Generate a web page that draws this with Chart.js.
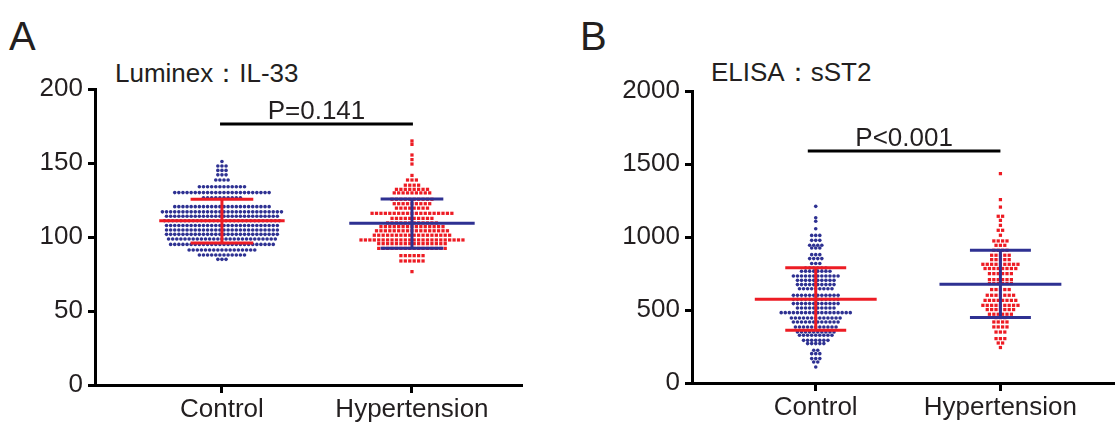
<!DOCTYPE html>
<html>
<head>
<meta charset="utf-8">
<script src="https://cdn.jsdelivr.net/npm/chart.js@4.4.1/dist/chart.umd.min.js"></script>
<style>
  body { margin: 0; background: #fff; width: 1118px; height: 425px; overflow: hidden; position: relative;
         font-family: "Liberation Sans", Arial, sans-serif; color: #231f20; }
  canvas { position: absolute; top: 0; }
  #chartA { left: 0; }
  #chartB { left: 545px; }
  .lbl { position: absolute; line-height: 1; white-space: nowrap; }
</style>
</head>
<body>
<div class="lbl" style="left:9px;top:16px;font-size:40px">A</div>
<div class="lbl" style="left:580px;top:16px;font-size:40px">B</div>
<div class="lbl" style="left:115px;top:60px;font-size:26px">Luminex：IL-33</div>
<div class="lbl" style="left:711px;top:59px;font-size:26px">ELISA：sST2</div>
<canvas id="chartA" width="545" height="425"></canvas>
<canvas id="chartB" width="573" height="425"></canvas>
<script>
// ── data ─────────────────────────────────────────
const GROUPS = ['Control', 'Hypertension'];

// A — Luminex IL-33 : dot rows (level, number of dots in the row)
const il33CtrlLevels = [151, 148, 145, 142, 138.5, 134, 130, 126.5, 120.5, 117, 114, 111, 107.8, 104.7, 101.8, 98.6, 95, 91.2, 87.8, 84.9];
const il33CtrlCounts = [1, 3, 3, 3, 4, 12, 24, 10, 24, 30, 28, 29, 28, 28, 28, 27, 26, 17, 12, 3];
const il33HypLevels  = [164.9, 162.6, 155.4, 152.3, 149.3, 141.6, 138.5, 135, 132.2, 129.8, 125.5, 122.5, 119.5, 116, 112.6, 109.5, 107, 104.2, 101.2, 98, 95.5, 92.3, 87.4, 83.8, 76.6];
const il33HypCounts  = [1, 1, 1, 1, 1, 1, 3, 4, 8, 9, 10, 9, 8, 19, 10, 12, 15, 17, 18, 24, 16, 16, 6, 6, 1];
const il33Mean   = [111, 109.3];
const il33SdLow  = [96, 92.4];
const il33SdHigh = [125.5, 125.7];
const il33Ticks  = [0, 50, 100, 150, 200];
const il33SigX   = [0.99, 2.005];
const il33SigY   = 176.4;
const il33P      = 'P=0.141';

// B — ELISA sST2
const sst2CtrlLevels = [1210, 1132, 1108, 1057, 1011, 977, 943, 925, 879, 852, 818, 788, 765, 733, 703, 674, 646, 601, 573, 544, 514, 482, 445, 418, 384, 349, 327, 292, 270, 224, 201, 167, 144, 110];
const sst2CtrlCounts = [1, 1, 1, 1, 3, 3, 4, 3, 3, 4, 3, 6, 8, 12, 10, 10, 9, 12, 12, 12, 10, 18, 13, 12, 11, 10, 9, 7, 5, 2, 3, 3, 2, 1];
const sst2HypLevels  = [1434, 1256, 1205, 1142, 1114, 1080, 1046, 1012, 973, 943, 909, 875, 845, 813, 784, 749, 708, 681, 640, 601, 566, 532, 503, 471, 448, 418, 384, 349, 304, 274, 243];
const sst2HypCounts  = [1, 1, 1, 2, 1, 1, 2, 1, 4, 3, 4, 5, 5, 9, 8, 6, 6, 6, 5, 7, 8, 9, 7, 6, 3, 4, 4, 3, 3, 2, 1];
const sst2Mean   = [574, 676];
const sst2SdLow  = [361, 448];
const sst2SdHigh = [789, 909];
const sst2Ticks  = [0, 500, 1000, 1500, 2000];
const sst2SigX   = [0.957, 2.0];
const sst2SigY   = 1589;
const sst2P      = 'P<0.001';

// ── styling ──────────────────────────────────────
const BLUE = '#2e3192';
const RED  = '#ed1c24';
const INK  = '#231f20';
const FONT = '"Liberation Sans", Arial, sans-serif';

// lay the dots of a row side by side round the group centre
function swarm(cat, levels, counts, step) {
  const pts = [];
  levels.forEach((y, r) => {
    const n = counts[r];
    for (let i = 0; i < n; i++) pts.push({ x: cat + (i - (n - 1) / 2) * step, y });
  });
  return pts;
}

const summaryPlugin = {
  id: 'summary',
  afterDatasetsDraw(chart, args, o) {
    const { ctx: c, scales: { x, y } } = chart;
    c.save();
    c.lineWidth = 3;
    o.mean.forEach((m, i) => {
      const cat = i + 1;
      c.strokeStyle = o.barColors[i];
      c.beginPath();
      c.moveTo(x.getPixelForValue(cat - 0.33), y.getPixelForValue(m));
      c.lineTo(x.getPixelForValue(cat + 0.33), y.getPixelForValue(m));
      [o.sdLow[i], o.sdHigh[i]].forEach(v => {
        c.moveTo(x.getPixelForValue(cat - 0.165), y.getPixelForValue(v));
        c.lineTo(x.getPixelForValue(cat + 0.165), y.getPixelForValue(v));
      });
      c.moveTo(x.getPixelForValue(cat), y.getPixelForValue(o.sdLow[i]));
      c.lineTo(x.getPixelForValue(cat), y.getPixelForValue(o.sdHigh[i]));
      c.stroke();
    });
    // significance bar + p value
    const sy = y.getPixelForValue(o.sigY);
    const x1 = x.getPixelForValue(o.sigX[0]);
    const x2 = x.getPixelForValue(o.sigX[1]);
    c.strokeStyle = '#000';
    c.beginPath();
    c.moveTo(x1, sy);
    c.lineTo(x2, sy);
    c.stroke();
    c.fillStyle = INK;
    c.font = '26px ' + FONT;
    c.textAlign = 'center';
    c.textBaseline = 'alphabetic';
    c.fillText(o.pText, (x1 + x2) / 2, sy - 5);
    c.restore();
  }
};

function makePanel(id, p) {
  return new Chart(document.getElementById(id), {
    type: 'scatter',
    data: {
      datasets: [
        {
          data: swarm(1, p.ctrlLevels, p.ctrlCounts, p.step),
          pointStyle: 'circle', pointRadius: 1.8,
          backgroundColor: BLUE, borderWidth: 0
        },
        {
          data: swarm(2, p.hypLevels, p.hypCounts, p.step * 1.08),
          pointStyle: 'rect', pointRadius: 2.3,
          backgroundColor: RED, borderWidth: 0
        }
      ]
    },
    options: {
      responsive: false, animation: false, events: [],
      layout: { padding: { left: 0, right: p.padRight, top: p.padTop, bottom: 0 } },
      plugins: {
        legend: { display: false },
        tooltip: { enabled: false },
        summary: {
          mean: p.mean, sdLow: p.sdLow, sdHigh: p.sdHigh,
          barColors: [RED, BLUE],
          sigX: p.sigX, sigY: p.sigY, pText: p.pText
        }
      },
      scales: {
        x: {
          type: 'linear', min: p.xMin, max: p.xMax,
          afterBuildTicks: a => { a.ticks = [{ value: 1 }, { value: 2 }]; },
          afterFit: s => { s.height = p.xHeight; },
          ticks: { callback: (v, i) => GROUPS[i], color: INK, font: { family: FONT, size: 26 }, padding: 1, maxRotation: 0 },
          grid: { drawOnChartArea: false, drawTicks: true, tickLength: 8, tickWidth: 3, tickColor: '#000' },
          border: { display: true, color: '#000', width: 3 }
        },
        y: {
          min: 0, max: p.ticks[p.ticks.length - 1],
          afterBuildTicks: a => { a.ticks = p.ticks.map(v => ({ value: v })); },
          afterFit: s => { s.width = p.yWidth; },
          ticks: { callback: v => String(v), color: INK, font: { family: FONT, size: 26 }, padding: 5 },
          grid: { drawOnChartArea: false, drawTicks: true, tickLength: 7, tickWidth: 3, tickColor: '#000' },
          border: { display: true, color: '#000', width: 3 }
        }
      }
    },
    plugins: [summaryPlugin]
  });
}

makePanel('chartA', {
  ctrlLevels: il33CtrlLevels, ctrlCounts: il33CtrlCounts,
  hypLevels: il33HypLevels, hypCounts: il33HypCounts,
  mean: il33Mean, sdLow: il33SdLow, sdHigh: il33SdHigh,
  ticks: il33Ticks, sigX: il33SigX, sigY: il33SigY, pText: il33P,
  step: 0.0216, xMin: 0.332, xMax: 2.579,
  yWidth: 95, xHeight: 40, padTop: 89, padRight: 23
});

makePanel('chartB', {
  ctrlLevels: sst2CtrlLevels, ctrlCounts: sst2CtrlCounts,
  hypLevels: sst2HypLevels, hypCounts: sst2HypCounts,
  mean: sst2Mean, sdLow: sst2SdLow, sdHigh: sst2SdHigh,
  ticks: sst2Ticks, sigX: sst2SigX, sigY: sst2SigY, pText: sst2P,
  step: 0.022, xMin: 0.33, xMax: 2.615,
  yWidth: 147, xHeight: 42, padTop: 91, padRight: 0
});
</script>
</body>
</html>
